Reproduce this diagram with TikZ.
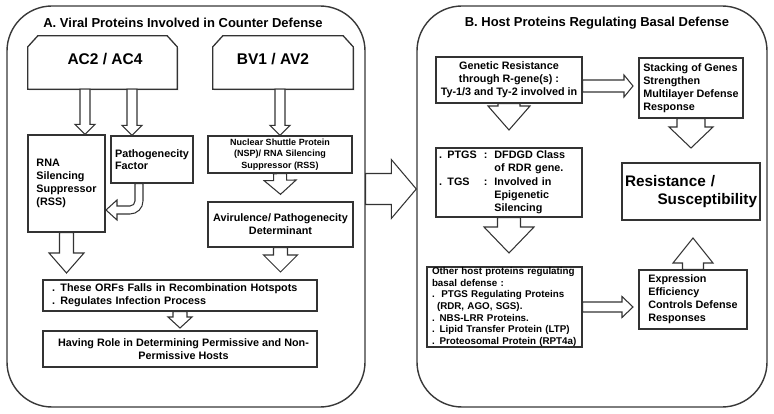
\documentclass[tikz,border=0pt]{standalone}
\usepackage{fontspec}
\setmainfont{Liberation Sans}
\usetikzlibrary{calc,shadows}

% hollow block arrow: from, to, shaft half width, head half width, head length
\newcommand{\blockarrow}[5]{%
  \path (#1) coordinate (ba-s) (#2) coordinate (ba-e);
  \path ($(ba-e)!#5!(ba-s)$) coordinate (ba-b);
  \draw[hollow] ($(ba-s)!#3!90:(ba-e)$) -- ($(ba-b)!#3!90:(ba-e)$) -- ($(ba-b)!#4!90:(ba-e)$)
    -- (ba-e) -- ($(ba-b)!#4!-90:(ba-e)$) -- ($(ba-b)!#3!-90:(ba-e)$) -- ($(ba-s)!#3!-90:(ba-e)$) -- cycle;
}

\begin{document}
\begin{tikzpicture}[x=1pt,y=-1pt]
		\tikzset{panel/.style={draw=black!78, line width=1.4pt, rounded corners=45pt, inner sep=0},
		box/.style={draw=black!80, line width=1.3pt, fill=white, inner sep=0, align=center,
		  drop shadow={shadow xshift=1.3pt, shadow yshift=-1.3pt, opacity=0.25},
		  font=\bfseries\fontsize{10.8}{13}\selectfont},
		tab/.style={draw=black!80, line width=1.3pt, fill=white,
		  drop shadow={shadow xshift=1.3pt, shadow yshift=-1.3pt, opacity=0.25}},
		hollow/.style={draw=black!80, line width=1.05pt, fill=white, line join=miter},
		title/.style={font=\bfseries\fontsize{13}{15}\selectfont},
		bigtxt/.style={font=\bfseries\fontsize{15.5}{18}\selectfont}}
        \useasboundingbox (0,0) rectangle (774,414);

        % Panels
        \node[panel, minimum width=358pt, minimum height=401pt] at (186,206.5) (pa) {};
        \node[panel, minimum width=350pt, minimum height=401pt] at (592,206.5) (pb) {};
        \node[title] at (183,23) (ta) {A. Viral Proteins Involved in Counter Defense};
        \node[title] at (597,23) (tb) {B. Host Proteins Regulating Basal Defense};

        % Viral proteins
        \node[inner sep=0, minimum width=149pt, minimum height=53pt] at (102.5,62.5) (ac) {};
        \node[inner sep=0, minimum width=140pt, minimum height=53pt] at (283,62.5) (bv) {};
        \draw[tab] (ac.south west) -- ([yshift=-11pt]ac.north west) -- ([xshift=10pt]ac.north west)
          -- ([xshift=-10pt]ac.north east) -- ([yshift=-11pt]ac.north east) -- (ac.south east) -- cycle;
        \draw[tab] (bv.south west) -- ([yshift=-11pt]bv.north west) -- ([xshift=10pt]bv.north west)
          -- ([xshift=-10pt]bv.north east) -- ([yshift=-11pt]bv.north east) -- (bv.south east) -- cycle;
        \node[bigtxt] at (105,59) (actxt) {AC2 / AC4};
        \node[bigtxt] at (273,59) (bvtxt) {BV1 / AV2};

        \node[box, align=left, minimum width=77pt, minimum height=97pt] at (66.5,183.5) (rss) {RNA\\Silencing\\Suppressor\\(RSS)};
        \node[box, align=left, minimum width=82pt, minimum height=47pt, font=\bfseries\fontsize{10.8}{12}\selectfont] at (152,159.5) (pf) {Pathogenecity\\Factor};
        \node[box, minimum width=144pt, minimum height=37pt, font=\bfseries\fontsize{9}{11.7}\selectfont] at (280,154.5) (nsp) {Nuclear Shuttle Protein\\(NSP)/ RNA Silencing\\Suppressor (RSS)};
        \node[box, minimum width=145pt, minimum height=45pt] at (280.5,224.5) (avr) {Avirulence/ Pathogenecity\\Determinant};
        \node[box, align=left, text width=256pt, minimum width=274pt, minimum height=31pt] at (180,295.5) (orf) {. These ORFs Falls in Recombination Hotspots\\. Regulates Infection Process};
        \node[box, minimum width=274pt, minimum height=36pt] at (180,349) (hav) {\hspace*{7pt}Having Role in Determining Permissive and Non-\\\hspace*{7pt}Permissive Hosts};

        % Host proteins
        \node[box, minimum width=146pt, minimum height=46pt] at (509,80) (gr) {Genetic Resistance\\through R-gene(s) :\\Ty-1/3 and Ty-2 involved in};
        \node[box, align=left, minimum width=104pt, minimum height=60pt] at (691,88) (stk) {Stacking of Genes\\Strengthen\\Multilayer Defense\\Response};
        \node[box, align=left, text width=140pt, minimum width=146pt, minimum height=69pt, font=\bfseries\fontsize{10.8}{13.2}\selectfont] at (509,182.5) (ptgs)
          {\begin{tabular}{@{}l@{\hspace{7pt}}l@{\hspace{7pt}}l@{}}
           . PTGS & : & DFDGD Class\\ & & of RDR gene.\\ . TGS & : & Involved in\\ & & Epigenetic\\ & & Silencing
           \end{tabular}};
        \node[box, align=left, text width=132pt, minimum width=138pt, minimum height=57pt, font=\bfseries\fontsize{15.3}{17.5}\selectfont] at (691,191.5) (res) {Resistance /\\\hspace*{\fill}Susceptibility};
        \node[box, align=left, text width=145pt, minimum width=155pt, minimum height=80pt, font=\bfseries\fontsize{9.8}{11.7}\selectfont] at (504.5,307) (oth)
          {Other host proteins regulating\\basal defense :\\.\ \ PTGS Regulating Proteins\\\hspace*{5pt}(RDR, AGO, SGS).\\. NBS-LRR Proteins.\\. Lipid Transfer Protein (LTP)\\. Proteosomal Protein (RPT4a)};
        \node[box, align=left, minimum width=108pt, minimum height=59pt] at (693,299.5) (exp) {Expression\\Efficiency\\Controls Defense\\Responses};

        % free arrow ends
        \coordinate (avrtip) at (280.5,272);
        \coordinate (rsstip) at (66.5,273);
        \coordinate (orftip) at (180,328);
        \coordinate (grtip) at (633,86);
        \coordinate (grdown) at (509,130);
        \coordinate (stktip) at (691,148);
        \coordinate (ptgstip) at (509,253);
        \coordinate (othtip) at (633,307);
        \coordinate (exptip) at (693,238);

        % Arrows in A
        \blockarrow{85,0 |- ac.south}{85,0 |- rss.north}{5pt}{10pt}{10pt}
        \blockarrow{132,0 |- ac.south}{132,0 |- pf.north}{5pt}{10pt}{10pt}
        \blockarrow{280,0 |- bv.south}{280,0 |- nsp.north}{5pt}{10pt}{10pt}
        \blockarrow{280,0 |- nsp.south}{[yshift=7pt]avr.north}{6.5pt}{16pt}{14pt}
        \blockarrow{avr.south}{avrtip}{7pt}{17pt}{17pt}
        \blockarrow{rss.south}{rsstip}{7pt}{17.5pt}{20pt}
        \blockarrow{orf.south}{orftip}{7pt}{12pt}{11pt}
        \draw[hollow] ([xshift=-9pt]pf.south) -- (143,201) .. controls (143,208.2) and (137.2,214) .. (130,214)
          -- (117,214) -- (117,220) -- (106,210) -- (117,200) -- (117,206) -- (130,206)
          .. controls (132.8,206) and (135,203.8) .. (135,201) -- ([xshift=-17pt]pf.south) -- cycle;

        % Arrows in B
        \blockarrow{gr.east |- 0,86}{grtip}{6pt}{11pt}{9pt}
        \blockarrow{gr.south}{grdown}{11pt}{21pt}{24pt}
        \blockarrow{stk.south}{stktip}{14pt}{22pt}{21pt}
        \blockarrow{ptgs.south}{ptgstip}{11.5pt}{25pt}{26pt}
        \blockarrow{oth.east |- 0,307}{othtip}{5pt}{10.5pt}{11pt}
        \blockarrow{exp.north}{exptip}{10.5pt}{20pt}{25pt}

        % Between panels
        \blockarrow{pa.east |- 0,189}{pb.west |- 0,189}{15.5pt}{29.5pt}{25pt}
\end{tikzpicture}
\end{document}
